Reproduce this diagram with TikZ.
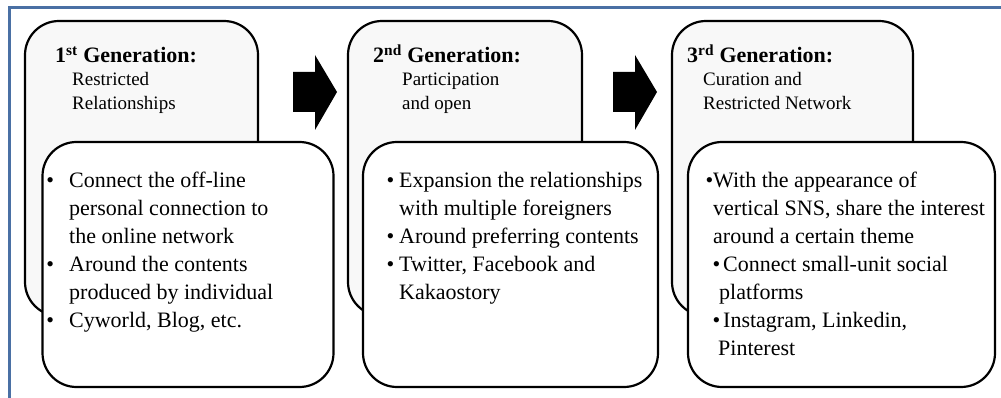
\documentclass[tikz,border=0pt]{standalone}
\usepackage{fontspec}
\setmainfont{Liberation Serif}
\definecolor{framecol}{RGB}{74,112,164}
\definecolor{backfill}{RGB}{248,248,248}
\newcommand{\itemdot}[1]{\llap{\textbullet\hspace{#1}}}

\begin{document}
\begin{tikzpicture}[x=1pt, y=-1pt,
    backbox/.style={draw, line width=2.2pt, rounded corners=34pt, fill=backfill, inner sep=0pt},
    frontbox/.style={draw, line width=2.2pt, rounded corners=34pt, fill=white, inner sep=0pt},
    headtxt/.style={anchor=base west, inner sep=0pt, font=\fontsize{22}{26}\selectfont\bfseries},
    subtxt/.style={anchor=base west, inner sep=0pt, align=left, font=\fontsize{19}{24}\selectfont},
    bodytxt/.style={anchor=base west, inner sep=0pt, align=left, font=\fontsize{22}{28}\selectfont}]
  \useasboundingbox (0,0) rectangle (1001,398);

  % outer frame, only top and left edge fall inside the picture
  \draw[framecol, line width=2.7pt] (9.5,398) -- (9.5,7.5) -- (1001,7.5);

  % 1st generation (text nodes sit on the baseline of their last line)
  \node[backbox, minimum width=233pt, minimum height=295pt] (g1) at (141.5,168.5) {};
  \node[frontbox, minimum width=291pt, minimum height=245pt] (f1) at (188,264.5) {};
  \node[headtxt] (h1) at (55,63) {1\textsuperscript{st} Generation:};
  \node[subtxt] (s1) at (72,110) {Restricted\\Relationships};
  \node[bodytxt] (b1) at (69,327) {%
    \itemdot{15pt}Connect the off-line\\
    personal connection to\\
    the online network\\
    \itemdot{15pt}Around the contents\\
    produced by individual\\
    \itemdot{15pt}Cyworld, Blog, etc.};

  % 2nd generation
  \node[backbox, minimum width=234pt, minimum height=295pt] (g2) at (465,168.5) {};
  \node[frontbox, minimum width=295pt, minimum height=245pt] (f2) at (510.5,264.5) {};
  \node[headtxt] (h2) at (373,63) {2\textsuperscript{nd} Generation:};
  \node[subtxt] (s2) at (402,110) {Participation\\and open};
  \node[bodytxt] (b2) at (399,299) {%
    \itemdot{5pt}Expansion the relationships\\
    with multiple foreigners\\
    \itemdot{5pt}Around preferring contents\\
    \itemdot{5pt}Twitter, Facebook and\\
    Kakaostory};

  % 3rd generation
  \node[backbox, minimum width=241pt, minimum height=295pt] (g3) at (792.5,168.5) {};
  \node[frontbox, minimum width=307pt, minimum height=245pt] (f3) at (841.5,264.5) {};
  \node[headtxt] (h3) at (687,63) {3\textsuperscript{rd}\ Generation:};
  \node[subtxt] (s3) at (703,110) {Curation and\\Restricted Network};
  \node[bodytxt] (b3) at (713,355) {%
    \itemdot{0pt}With the appearance of\\
    vertical SNS, share the interest\\
    around a certain theme\\
    \hspace*{10pt}\itemdot{3pt}Connect small-unit social\\
    \hspace*{6pt}platforms\\
    \hspace*{10pt}\itemdot{3pt}Instagram, Linkedin,\\
    \hspace*{5pt}Pinterest};

  % block arrows between the generations
  \foreach \x in {293,613}
    \fill (\x,72) -- ++(22,0) -- ++(0,-17) -- ++(22,37) -- ++(-22,38)
      -- ++(0,-18) -- ++(-22,0) -- cycle;
\end{tikzpicture}
\end{document}
